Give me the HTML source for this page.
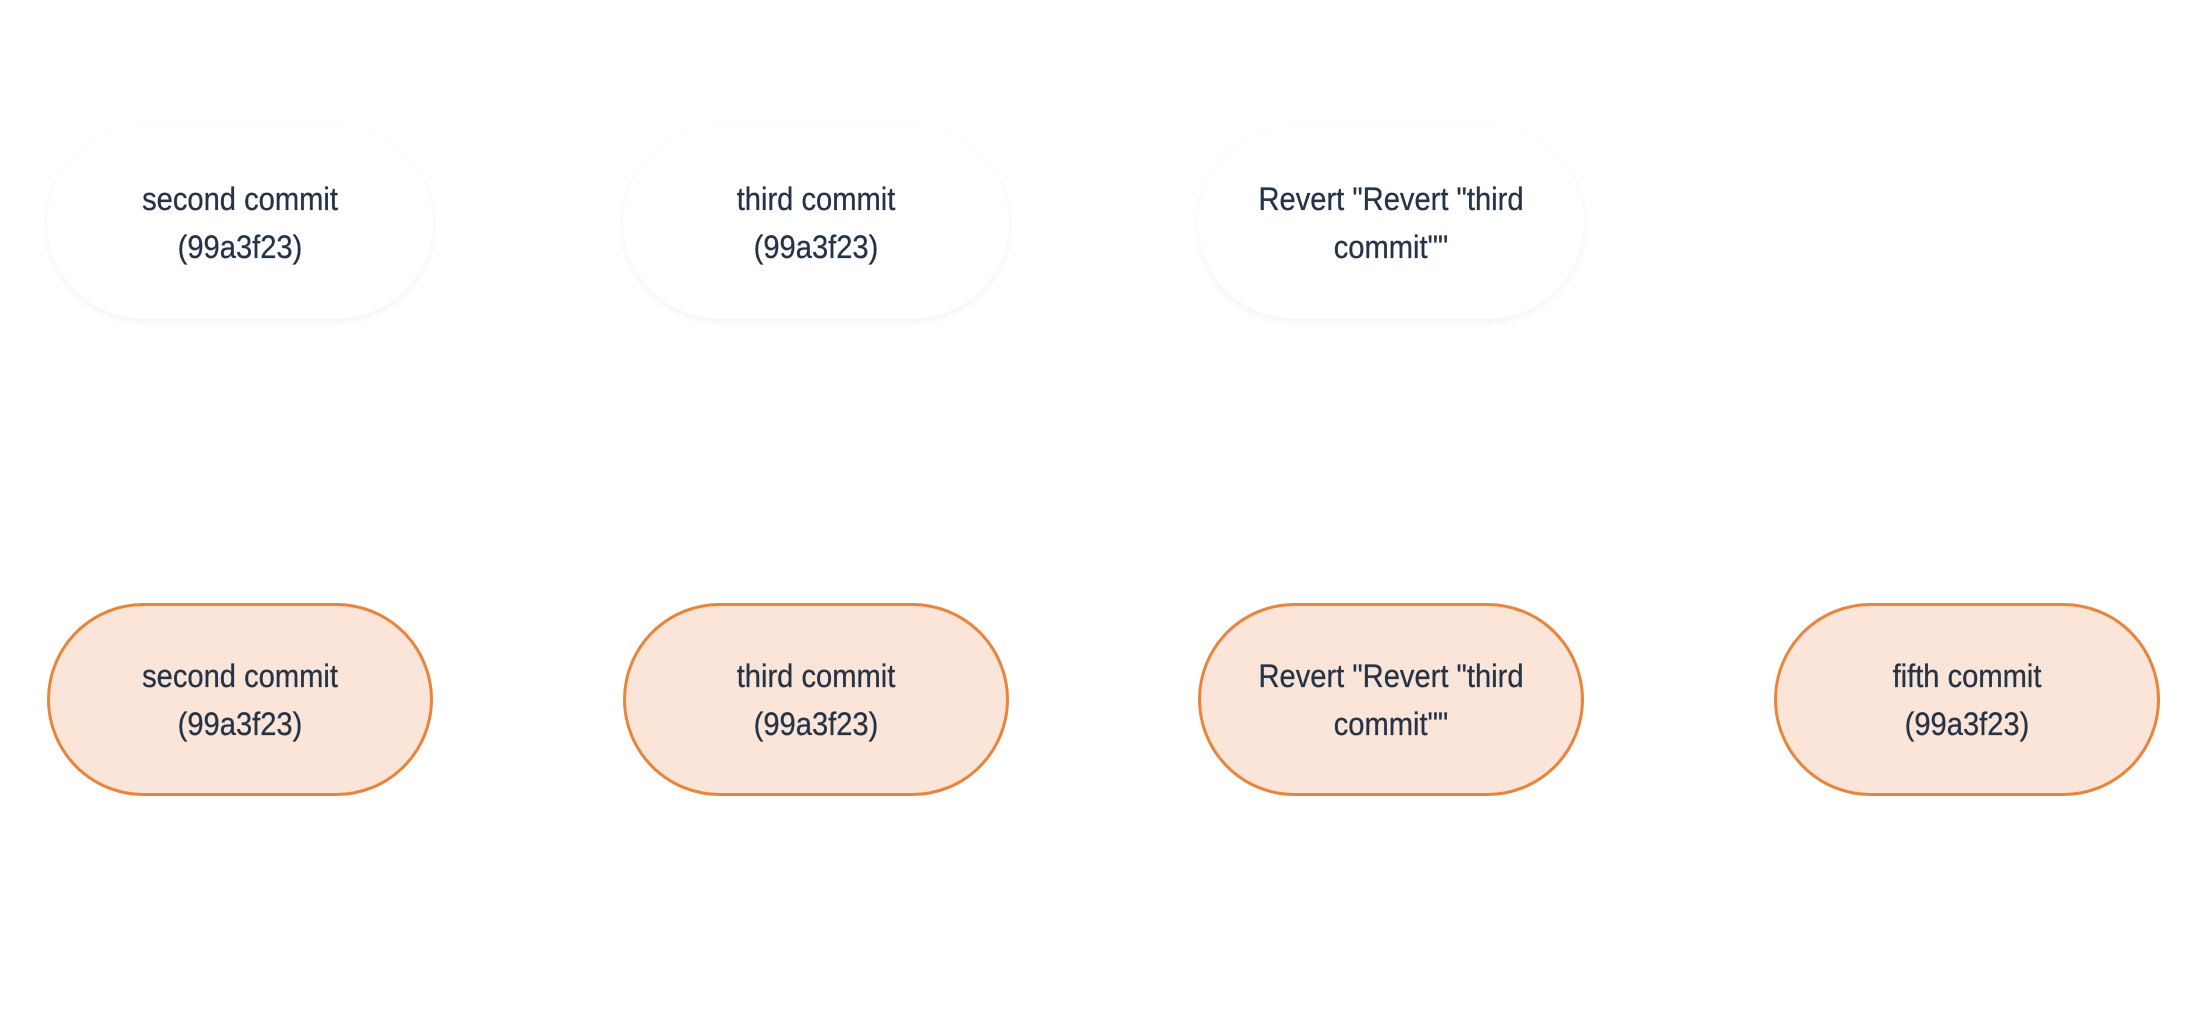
<!DOCTYPE html>
<html><head><meta charset="utf-8"><style>
html,body{margin:0;padding:0;background:#fff;width:2208px;height:1012px;overflow:hidden;position:relative}
.n{position:absolute;width:386px;height:193px;box-sizing:border-box;border-radius:97px;display:flex;align-items:center;justify-content:center;text-align:center;font-family:"Liberation Sans",sans-serif;font-size:32px;line-height:48px;color:#243446}
.n span{display:inline-block;transform:scaleX(0.91);-webkit-text-stroke:0.3px #243446;width:330px}
.t{background:#fff;box-shadow:0 3px 8px rgba(0,0,0,0.05);top:126px}
.b{background:#fae5d8;border:3px solid #e8853a;top:603px}
</style></head><body>
<div class="n t" style="left:47px"><span>second commit<br>(99a3f23)</span></div>
<div class="n t" style="left:623px"><span>third commit<br>(99a3f23)</span></div>
<div class="n t" style="left:1198px"><span>Revert "Revert "third commit""</span></div>
<div class="n b" style="left:47px"><span>second commit<br>(99a3f23)</span></div>
<div class="n b" style="left:623px"><span>third commit<br>(99a3f23)</span></div>
<div class="n b" style="left:1198px"><span>Revert "Revert "third commit""</span></div>
<div class="n b" style="left:1774px"><span>fifth commit<br>(99a3f23)</span></div>
</body></html>
